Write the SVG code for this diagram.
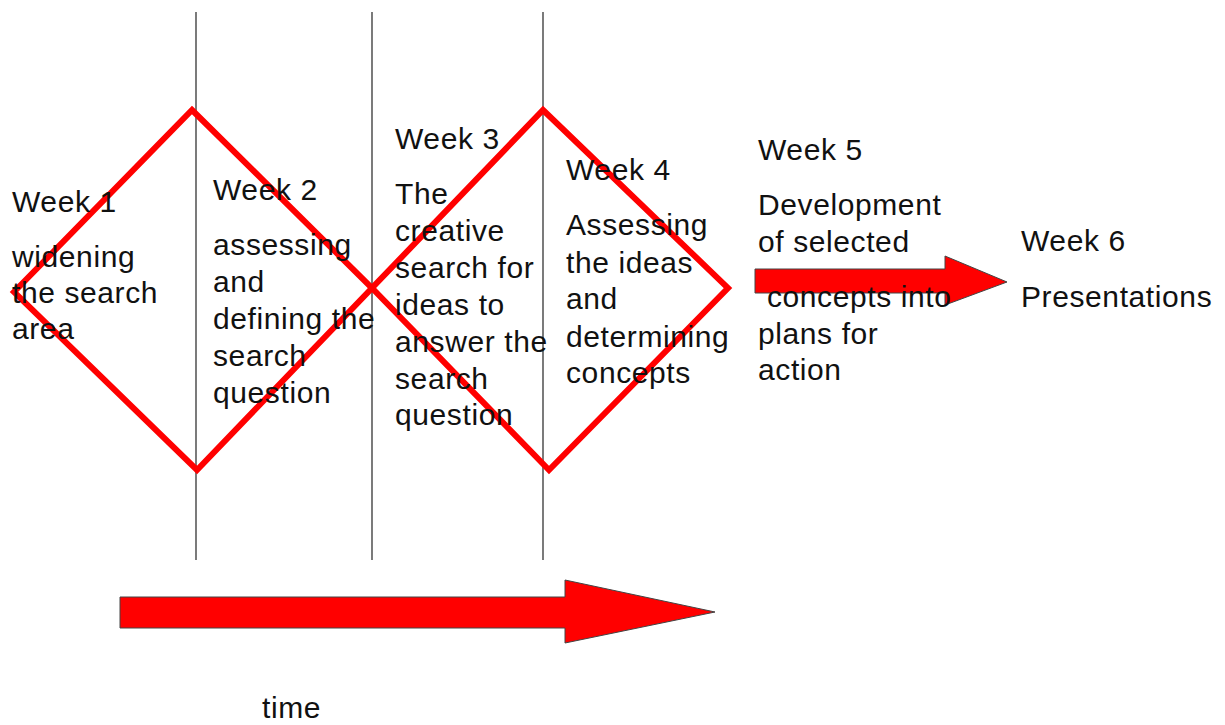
<svg xmlns="http://www.w3.org/2000/svg" width="1225" height="725" viewBox="0 0 1225 725">
<style>
text{font-family:"Liberation Sans",Arial,sans-serif;font-size:30px;letter-spacing:0.6px;fill:#111}
.vl{stroke:#222;stroke-width:1.2}
.dia{fill:none;stroke:#ff0000;stroke-width:6;stroke-linejoin:miter}
.arr{fill:#ff0000;stroke:#444;stroke-width:1}
</style>
<rect width="1225" height="725" fill="#fff"/>
<g id="connectors">
<line class="vl" x1="196" y1="12" x2="196" y2="560"/>
<line class="vl" x1="372" y1="12" x2="372" y2="560"/>
<line class="vl" x1="543" y1="12" x2="543" y2="560"/>
<polygon id="diamond1" class="dia" points="192,110 372,288 197,470 14,292"/>
<polygon id="diamond2" class="dia" points="543,110 728,288 549,470 372,288"/>
<polygon id="arrow-week5" class="arr" points="755,269 945,269 945,256 1007,282 945,305 945,293 755,293"/>
<polygon id="arrow-time" class="arr" points="120,597 565,597 565,580 715,612 565,643 565,628 120,628"/>
</g>
<g id="week1">
<text x="12" y="212">Week 1</text>
<text x="12" y="267">widening</text>
<text x="12" y="303">the search</text>
<text x="12" y="339">area</text>
</g>
<g id="week2">
<text x="213" y="200">Week 2</text>
<text x="213" y="255">assessing</text>
<text x="213" y="292">and</text>
<text x="213" y="329">defining the</text>
<text x="213" y="366">search</text>
<text x="213" y="403">question</text>
</g>
<g id="week3">
<text x="395" y="149">Week 3</text>
<text x="395" y="204">The</text>
<text x="395" y="241">creative</text>
<text x="395" y="278">search for</text>
<text x="395" y="315">ideas to</text>
<text x="395" y="352">answer the</text>
<text x="395" y="389">search</text>
<text x="395" y="425">question</text>
</g>
<g id="week4">
<text x="566" y="180">Week 4</text>
<text x="566" y="235">Assessing</text>
<text x="566" y="273">the ideas</text>
<text x="566" y="309">and</text>
<text x="566" y="347">determining</text>
<text x="566" y="383">concepts</text>
</g>
<g id="week5">
<text x="758" y="160">Week 5</text>
<text x="758" y="215">Development</text>
<text x="758" y="252">of selected</text>
<text x="758" y="307" xml:space="preserve"> concepts into</text>
<text x="758" y="344">plans for</text>
<text x="758" y="380">action</text>
</g>
<g id="week6">
<text x="1021" y="251">Week 6</text>
<text x="1021" y="307">Presentations</text>
</g>
<g id="time">
<text x="262" y="718">time</text>
</g>
</svg>
